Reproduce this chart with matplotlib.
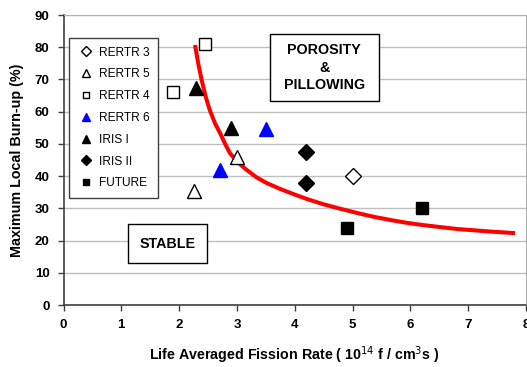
import matplotlib.pyplot as plt
from matplotlib.patches import Rectangle

plt.rcParams['font.family'] = ['Liberation Sans', 'DejaVu Sans']

# data: (fission rate, burn-up)
rertr3_x = [5.0]
rertr3_y = [40]
rertr5_x = [2.25, 3.0]
rertr5_y = [35.5, 46]
rertr4_x = [2.45, 1.9]
rertr4_y = [81, 66]
rertr6_x = [2.7, 3.5]
rertr6_y = [42, 54.5]
iris1_x = [2.3, 2.9]
iris1_y = [67.5, 55]
iris2_x = [4.2, 4.2]
iris2_y = [47.5, 38]
future_x = [6.2, 4.9]
future_y = [30, 24]

# red boundary line
curve_x = [2.275, 2.33, 2.39, 2.46, 2.53, 2.62, 2.71, 2.79, 2.88, 3.02, 3.17, 3.34, 3.52,
           3.75, 4.01, 4.21, 4.49, 4.78, 5.07, 5.36, 5.65, 5.94, 6.22, 6.51, 6.80, 7.38, 7.81]
curve_y = [80.7, 75.0, 69.8, 64.6, 60.5, 56.4, 53.3, 50.2, 47.1, 44.2, 41.9, 39.6, 37.8,
           36.0, 34.2, 32.9, 31.3, 29.9, 28.6, 27.4, 26.4, 25.5, 24.8, 24.2, 23.6, 22.8, 22.3]

W, H = 527, 367
fig = plt.figure(figsize=(W / 100, H / 100), dpi=100)
ax = fig.add_axes([63.5 / W, (H - 305) / H, (526 - 63.5) / W, (305 - 15) / H])

ax.set_xlim(0, 8)
ax.set_ylim(0, 90)
ax.set_xticks(range(0, 9))
ax.set_yticks(range(0, 91, 10))
ax.yaxis.grid(True, color='#c0c0c0', lw=1)
ax.set_axisbelow(True)
for s in ['left', 'bottom']:
    ax.spines[s].set_color('#404040')
    ax.spines[s].set_linewidth(1.2)
for s in ['top', 'right']:
    ax.spines[s].set_color('#b0b0b0')
ax.tick_params(direction='out', length=4, width=1, color='#404040', labelsize=9.5, pad=6)
for lab in ax.get_xticklabels() + ax.get_yticklabels():
    lab.set_fontweight('bold')

ax.plot(curve_x, curve_y, color='#ff0000', lw=2.9, zorder=2, solid_capstyle='butt',
        solid_joinstyle='round')

ax.plot(rertr3_x, rertr3_y, 'D', ms=7.8, mfc='white', mec='black', mew=1, ls='none', label='RERTR 3', zorder=3)
ax.plot(rertr5_x, rertr5_y, '^', ms=10, mfc='white', mec='black', mew=1, ls='none', label='RERTR 5', zorder=3)
ax.plot(rertr4_x, rertr4_y, 's', ms=8.3, mfc='white', mec='black', mew=1, ls='none', label='RERTR 4', zorder=3)
ax.plot(rertr6_x, rertr6_y, '^', ms=10, mfc='#0000ff', mec='#0000ff', ls='none', label='RERTR 6', zorder=3)
ax.plot(iris1_x, iris1_y, '^', ms=10, mfc='black', mec='black', ls='none', label='IRIS I', zorder=3)
ax.plot(iris2_x, iris2_y, 'D', ms=7.8, mfc='black', mec='black', ls='none', label='IRIS II', zorder=3)
ax.plot(future_x, future_y, 's', ms=8.3, mfc='black', mec='black', ls='none', label='FUTURE', zorder=3)

leg = ax.legend(loc='upper left', bbox_to_anchor=(69.3 / W, 1 - 38.3 / H), bbox_transform=fig.transFigure,
                borderaxespad=0, fancybox=False, framealpha=1, edgecolor='#404040', fontsize=8.6,
                markerscale=0.6, handlelength=1.4, handletextpad=0.4, labelspacing=0.82,
                borderpad=0.7)
leg.get_frame().set_linewidth(1)

# region boxes
ax.add_patch(Rectangle((3.57, 63.4), 1.88, 20.6, fc='white', ec='black', lw=1, zorder=4))
ax.text(4.51, 73.7, 'POROSITY\n&\nPILLOWING', ha='center', va='center', fontsize=10.3,
        fontweight='bold', linespacing=1.3, zorder=5)
ax.add_patch(Rectangle((1.11, 12.9), 1.38, 12.1, fc='white', ec='black', lw=1, zorder=4))
ax.text(1.80, 19.0, 'STABLE', ha='center', va='center', fontsize=10.3, fontweight='bold', zorder=5)

ax.set_xlabel('Life Averaged Fission Rate ( 10$^{14}$ f / cm$^{3}$s )', fontsize=10.3,
              fontweight='bold', labelpad=10)
ax.set_ylabel('Maximum Local Burn-up (%)', fontsize=10.3, fontweight='bold', labelpad=8)

fig.savefig('out.png', dpi=100)
